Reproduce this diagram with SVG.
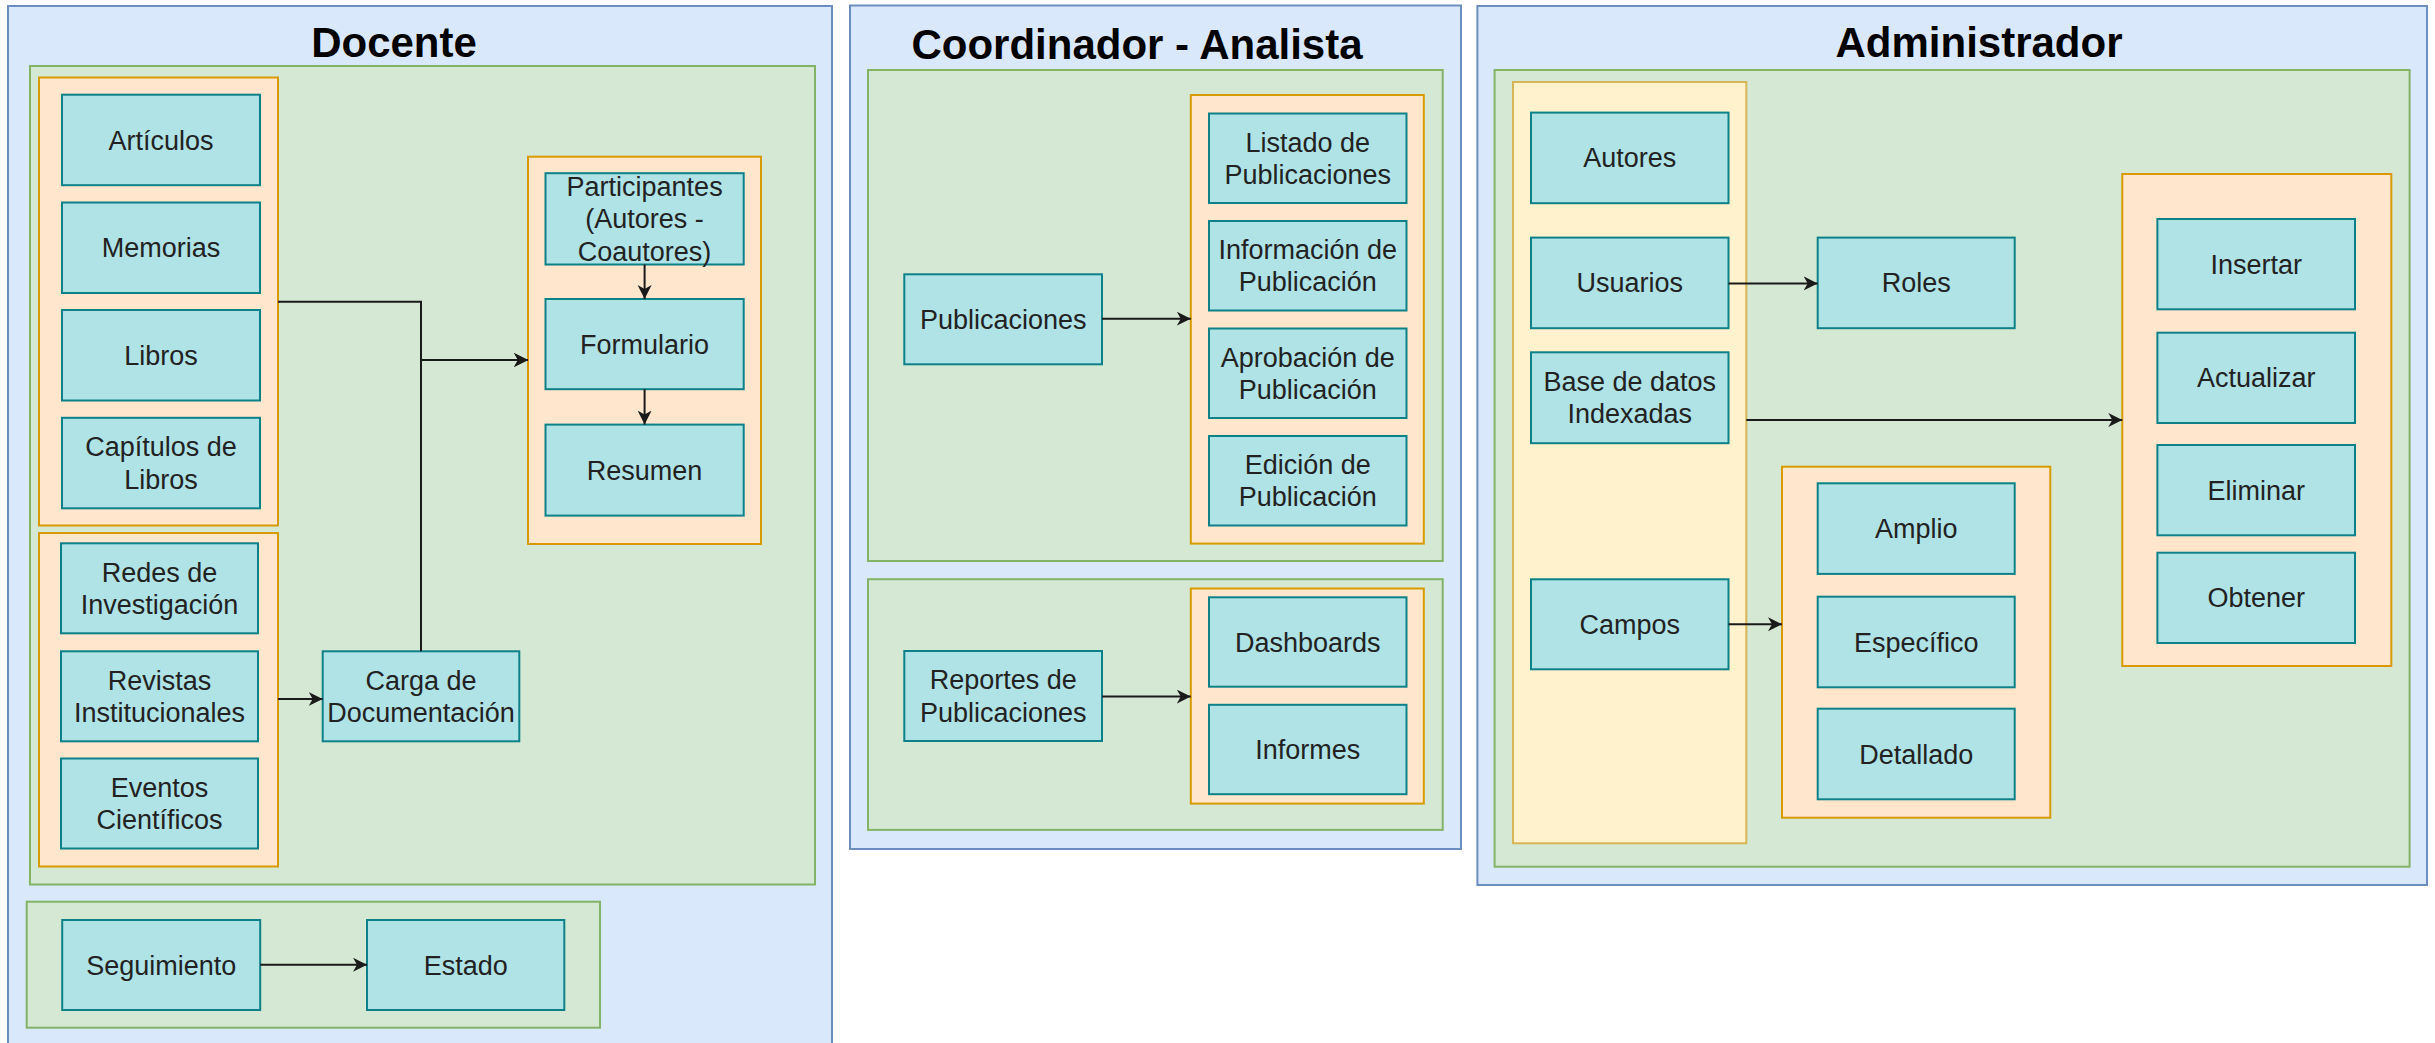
<svg xmlns="http://www.w3.org/2000/svg" width="2435" height="1043" viewBox="0 0 2435 1043">
<defs>
<style>
.panel{fill:#dae8fc;stroke:#6c8ebf;stroke-width:2}
.grp{fill:#d5e8d4;stroke:#82b366;stroke-width:2}
.org{fill:#ffe6cc;stroke:#d79b00;stroke-width:2}
.yel{fill:#fff2cc;stroke:#d6b656;stroke-width:2}
.box{fill:#b0e3e6;stroke:#0e8088;stroke-width:2}
.t{font-family:"Liberation Sans",Arial,sans-serif;font-size:27px;fill:#222;text-anchor:middle}
.title{font-family:"Liberation Sans",Arial,sans-serif;font-size:42px;font-weight:bold;fill:#000;text-anchor:middle}
.edge{fill:none;stroke:#1a1a1a;stroke-width:2}
</style>
<marker id="arr" markerUnits="userSpaceOnUse" markerWidth="16" markerHeight="16" refX="14" refY="7" orient="auto">
<path d="M0,0 L14,7 L0,14 L4,7 Z" fill="#1a1a1a"/>
</marker>
</defs>

<!-- Docente -->
<g id="docente">
<rect class="panel" x="8" y="6" width="824" height="1060"/>
<text class="title" x="394" y="57">Docente</text>
</g>
<g id="docente-main"><rect class="grp" x="30" y="66" width="785" height="818.5"/></g>
<g id="docente-pubs"><rect class="org" x="39" y="77.5" width="239" height="448"/></g>
<g id="articulos"><rect class="box" x="62" y="94.7" width="198" height="90.5"/><text class="t" x="161" y="149.5">Artículos</text></g>
<g id="memorias"><rect class="box" x="62" y="202.5" width="198" height="90.5"/><text class="t" x="161" y="257.1">Memorias</text></g>
<g id="libros"><rect class="box" x="62" y="310" width="198" height="90.5"/><text class="t" x="161" y="364.6">Libros</text></g>
<g id="capitulos"><rect class="box" x="62" y="417.8" width="198" height="90.5"/><text class="t" x="161" y="456.2">Capítulos de</text><text class="t" x="161" y="488.6">Libros</text></g>
<g id="docente-otros"><rect class="org" x="39" y="533" width="239" height="333.5"/></g>
<g id="redes"><rect class="box" x="61" y="543.3" width="197" height="90"/><text class="t" x="159.5" y="581.6">Redes de</text><text class="t" x="159.5" y="614">Investigación</text></g>
<g id="revistas"><rect class="box" x="61" y="651.3" width="197" height="90"/><text class="t" x="159.5" y="689.6">Revistas</text><text class="t" x="159.5" y="722">Institucionales</text></g>
<g id="eventos"><rect class="box" x="61" y="758.5" width="197" height="90"/><text class="t" x="159.5" y="796.8">Eventos</text><text class="t" x="159.5" y="829.2">Científicos</text></g>
<g id="carga"><rect class="box" x="322.7" y="651.3" width="196.6" height="90"/><text class="t" x="421" y="689.6">Carga de</text><text class="t" x="421" y="722">Documentación</text></g>
<g id="docente-form"><rect class="org" x="528" y="156.7" width="233" height="387.3"/></g>
<g id="participantes"><rect class="box" x="545.5" y="173.2" width="198.2" height="91.3"/><text class="t" x="644.6" y="196">Participantes</text><text class="t" x="644.6" y="228.4">(Autores -</text><text class="t" x="644.6" y="260.8">Coautores)</text></g>
<g id="formulario"><rect class="box" x="545.5" y="299" width="198.2" height="90.2"/><text class="t" x="644.6" y="353.6">Formulario</text></g>
<g id="resumen"><rect class="box" x="545.5" y="424.6" width="198.2" height="91"/><text class="t" x="644.6" y="479.6">Resumen</text></g>
<g id="docente-seg"><rect class="grp" x="26.7" y="901.7" width="573.3" height="126"/></g>
<g id="seguimiento"><rect class="box" x="62.2" y="920" width="198" height="90"/><text class="t" x="161.2" y="974.5">Seguimiento</text></g>
<g id="estado"><rect class="box" x="367" y="920" width="197.3" height="90"/><text class="t" x="465.7" y="974.5">Estado</text></g>

<!-- Coordinador - Analista -->
<g id="coordinador">
<rect class="panel" x="850" y="5.5" width="611" height="843.5"/>
<text class="title" x="1137" y="59">Coordinador - Analista</text>
</g>
<g id="coord-pubs"><rect class="grp" x="868" y="70" width="574.7" height="491"/></g>
<g id="coord-pubs-ops"><rect class="org" x="1190.8" y="95" width="233" height="448.6"/></g>
<g id="listado"><rect class="box" x="1209" y="113.5" width="197.5" height="89.5"/><text class="t" x="1307.8" y="151.5">Listado de</text><text class="t" x="1307.8" y="183.9">Publicaciones</text></g>
<g id="informacion"><rect class="box" x="1209" y="221" width="197.5" height="89.5"/><text class="t" x="1307.8" y="259">Información de</text><text class="t" x="1307.8" y="291.4">Publicación</text></g>
<g id="aprobacion"><rect class="box" x="1209" y="328.5" width="197.5" height="89.5"/><text class="t" x="1307.8" y="366.5">Aprobación de</text><text class="t" x="1307.8" y="398.9">Publicación</text></g>
<g id="edicion"><rect class="box" x="1209" y="436" width="197.5" height="89.5"/><text class="t" x="1307.8" y="474">Edición de</text><text class="t" x="1307.8" y="506.4">Publicación</text></g>
<g id="publicaciones"><rect class="box" x="904.3" y="274.3" width="197.7" height="90"/><text class="t" x="1003.2" y="328.8">Publicaciones</text></g>
<g id="coord-rep"><rect class="grp" x="868" y="579.2" width="574.7" height="250.7"/></g>
<g id="coord-rep-ops"><rect class="org" x="1190.8" y="588.5" width="233" height="215.1"/></g>
<g id="dashboards"><rect class="box" x="1209" y="597.3" width="197.5" height="89.4"/><text class="t" x="1307.8" y="651.5">Dashboards</text></g>
<g id="informes"><rect class="box" x="1209" y="704.8" width="197.5" height="89.4"/><text class="t" x="1307.8" y="759">Informes</text></g>
<g id="reportes"><rect class="box" x="904.3" y="651" width="197.7" height="90"/><text class="t" x="1003.2" y="689.3">Reportes de</text><text class="t" x="1003.2" y="721.7">Publicaciones</text></g>

<!-- Administrador -->
<g id="administrador">
<rect class="panel" x="1477.4" y="6" width="949.6" height="879"/>
<text class="title" x="1979" y="57">Administrador</text>
</g>
<g id="admin-main"><rect class="grp" x="1494.6" y="70" width="915" height="796.7"/></g>
<g id="admin-entidades"><rect class="yel" x="1513" y="82" width="233.3" height="761.3"/></g>
<g id="autores"><rect class="box" x="1531" y="112.6" width="197.5" height="90.6"/><text class="t" x="1629.8" y="167.4">Autores</text></g>
<g id="usuarios"><rect class="box" x="1531" y="237.6" width="197.5" height="90.6"/><text class="t" x="1629.8" y="292.4">Usuarios</text></g>
<g id="basedatos"><rect class="box" x="1531" y="352.3" width="197.5" height="90.9"/><text class="t" x="1629.8" y="391">Base de datos</text><text class="t" x="1629.8" y="423.4">Indexadas</text></g>
<g id="campos"><rect class="box" x="1531" y="579.3" width="197.5" height="90"/><text class="t" x="1629.8" y="633.8">Campos</text></g>
<g id="roles"><rect class="box" x="1817.7" y="237.6" width="197" height="90.6"/><text class="t" x="1916.2" y="292.4">Roles</text></g>
<g id="admin-crud"><rect class="org" x="2122.3" y="174" width="269" height="492"/></g>
<g id="insertar"><rect class="box" x="2157.4" y="219" width="197.6" height="90.3"/><text class="t" x="2256.2" y="273.7">Insertar</text></g>
<g id="actualizar"><rect class="box" x="2157.4" y="332.7" width="197.6" height="90.3"/><text class="t" x="2256.2" y="387.4">Actualizar</text></g>
<g id="eliminar"><rect class="box" x="2157.4" y="445" width="197.6" height="90.3"/><text class="t" x="2256.2" y="499.7">Eliminar</text></g>
<g id="obtener"><rect class="box" x="2157.4" y="552.7" width="197.6" height="90.3"/><text class="t" x="2256.2" y="607.4">Obtener</text></g>
<g id="admin-campos"><rect class="org" x="1782" y="466.7" width="268.3" height="351"/></g>
<g id="amplio"><rect class="box" x="1817.7" y="483.3" width="197" height="90.6"/><text class="t" x="1916.2" y="538.1">Amplio</text></g>
<g id="especifico"><rect class="box" x="1817.7" y="596.7" width="197" height="90.6"/><text class="t" x="1916.2" y="651.5">Específico</text></g>
<g id="detallado"><rect class="box" x="1817.7" y="708.7" width="197" height="90.6"/><text class="t" x="1916.2" y="763.5">Detallado</text></g>

<!-- Connectors -->
<g id="connectors">
<path class="edge" d="M278,301.7 H421 V360 H528" marker-end="url(#arr)"/>
<path class="edge" d="M421,651.3 V360 H528" marker-end="url(#arr)"/>
<path class="edge" d="M278,699 H322.7" marker-end="url(#arr)"/>
<path class="edge" d="M644.6,264.5 V299" marker-end="url(#arr)"/>
<path class="edge" d="M644.6,389.2 V424.6" marker-end="url(#arr)"/>
<path class="edge" d="M260.2,964.7 H367" marker-end="url(#arr)"/>
<path class="edge" d="M1102,318.7 H1190.8" marker-end="url(#arr)"/>
<path class="edge" d="M1102,696.6 H1190.8" marker-end="url(#arr)"/>
<path class="edge" d="M1728.5,283.4 H1817.7" marker-end="url(#arr)"/>
<path class="edge" d="M1746.3,420 H2122.3" marker-end="url(#arr)"/>
<path class="edge" d="M1728.5,624.3 H1782" marker-end="url(#arr)"/>
</g>
</svg>
